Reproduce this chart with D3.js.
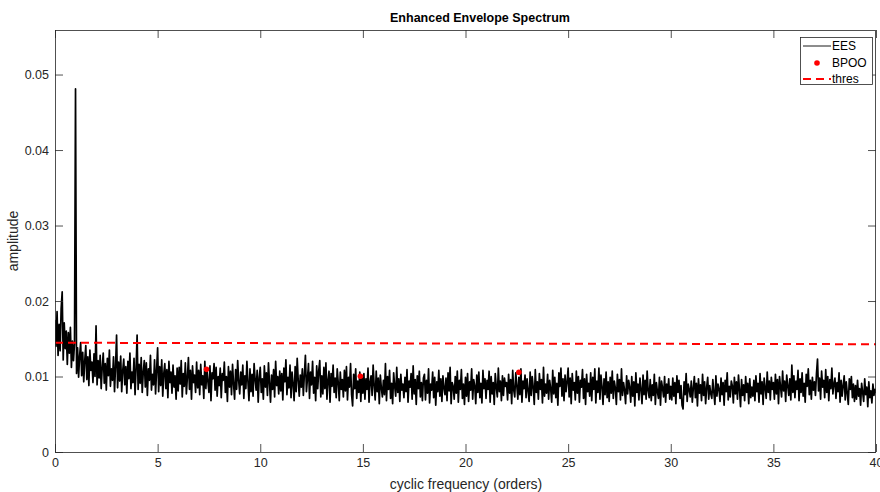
<!DOCTYPE html>
<html>
<head>
<meta charset="utf-8">
<script src="https://cdn.jsdelivr.net/npm/d3@7"></script>
<style>
  html, body { margin: 0; padding: 0; background: #ffffff; }
  svg { display: block; font-family: "Liberation Sans", Arial, Helvetica, sans-serif; }
</style>
</head>
<body>
<svg id="chart" width="880" height="492"></svg>
<script>
// ---------------- data ----------------
const chartTitle = "Enhanced Envelope Spectrum";
const xLabel = "cyclic frequency (orders)";
const yLabel = "amplitude";

// EES amplitude (x 1e-4), sampled every 0.05 orders from 0 to 40
const eesStep = 0.05;
const eesValues = [
175,140,186,128,169,134,190,212,122,171,137,160,116,158,131,165,112,147,121,143,
481,104,138,99,127,145,101,132,93,121,141,96,126,88,135,108,119,92,130,100,
167,89,121,98,128,84,112,131,91,117,82,124,101,135,87,110,95,126,80,114,
155,85,119,94,127,80,108,123,89,113,78,120,97,131,84,106,92,124,76,111,
155,83,116,91,125,79,106,121,86,118,75,110,95,128,82,103,89,122,77,109,
138,80,113,88,122,74,104,117,84,109,72,120,92,106,78,115,86,101,70,111,
81,112,90,121,73,104,87,118,77,99,125,83,108,70,114,92,102,79,119,85,
108,76,116,89,101,71,120,84,110,93,79,114,68,105,97,117,82,112,74,100,
88,111,72,104,95,119,79,100,67,113,86,107,76,116,90,70,109,83,121,94,
77,106,89,115,71,101,84,120,93,68,110,80,103,74,117,96,82,108,66,99,
112,79,97,70,114,86,105,75,118,92,66,102,83,109,73,120,88,100,77,107,
81,104,69,111,93,122,76,99,85,115,72,106,90,68,113,80,124,95,74,102,
86,110,75,103,128,80,97,117,71,106,89,120,78,99,68,114,84,108,121,73,
101,77,112,84,118,70,95,107,66,104,87,115,79,98,72,110,92,68,106,83,
96,73,108,81,113,69,99,86,117,76,61,103,84,110,71,94,79,106,67,100,
78,104,70,97,83,111,66,93,101,75,115,88,69,107,80,98,64,102,85,73,
95,76,117,68,100,83,108,71,91,64,105,87,74,112,79,97,67,103,82,90,
72,99,80,109,66,94,86,104,70,114,77,96,63,101,84,107,73,92,68,98,
103,69,95,78,110,65,90,82,106,72,99,62,93,80,108,74,97,67,101,85,
76,98,68,105,81,112,64,92,87,70,100,78,107,66,95,83,109,71,90,63,
99,74,104,67,93,82,110,70,96,88,64,102,79,106,72,91,65,108,84,97,
71,95,83,107,66,100,77,92,63,104,86,73,111,80,94,68,101,75,98,87,
92,69,103,78,96,64,108,82,73,105,88,70,99,76,110,66,94,84,102,72,
97,81,67,106,75,100,86,63,109,79,93,70,104,83,96,65,112,74,90,78,
103,70,95,84,66,108,77,99,72,91,62,105,87,111,74,97,68,102,80,93,
111,73,98,64,104,82,92,69,107,78,100,66,95,86,109,71,97,63,103,80,
91,74,105,68,99,83,110,65,94,79,111,70,102,87,63,97,76,106,72,93,
67,99,78,107,71,94,85,63,103,80,96,69,110,75,92,82,64,101,77,95,
86,66,100,74,93,61,105,79,90,69,98,83,64,102,76,95,70,107,81,72,
96,68,89,75,103,63,92,80,71,99,62,94,85,73,100,66,90,78,97,70,
87,69,98,74,92,64,101,79,95,71,88,62,57,93,76,104,67,90,83,73,
94,66,85,100,72,91,61,97,78,89,68,103,75,93,64,86,99,70,88,77,
71,96,79,63,101,74,90,84,67,98,76,92,62,95,80,105,69,87,73,94,
88,65,99,77,93,70,102,82,60,96,75,89,68,100,79,91,64,97,72,86,
74,95,68,101,80,91,66,104,77,93,63,98,85,71,106,79,94,69,99,83,
92,70,103,77,96,64,100,86,73,107,81,94,67,102,88,75,97,69,115,79,
101,72,94,83,108,68,97,79,105,74,91,66,103,87,110,76,95,70,99,82,
93,75,104,123,81,98,70,107,86,95,72,109,79,100,68,96,84,111,77,90,
98,71,92,80,105,66,95,74,88,101,69,93,78,63,97,83,100,72,90,67,
88,70,95,74,84,62,91,79,67,97,76,86,60,93,72,81,65,90,75,83,
78
];
const eesScale = 1e-4;

// BPOO markers
const bpooX = [7.38, 14.88, 22.6];
const bpooY = [0.01095, 0.01003, 0.01056];

// threshold line endpoints
const thresX = [0, 40];
const thresY = [0.01447, 0.01428];

// axes
const xDomain = [0, 40];
const yDomain = [0, 0.0559];
const xTicks = [0, 5, 10, 15, 20, 25, 30, 35, 40];
const yTicks = [0, 0.01, 0.02, 0.03, 0.04, 0.05];
const yTickLabels = ["0", "0.01", "0.02", "0.03", "0.04", "0.05"];

const legendLabels = ["EES", "BPOO", "thres"];

// ---------------- drawing ----------------
const svg = d3.select("#chart");
const W = 880, H = 492;
const m = { left: 55, right: 4, top: 30, bottom: 40 };
const pw = W - m.left - m.right, ph = H - m.top - m.bottom;
const axisColor = "#262626";
const fontFam = "'Liberation Sans', Arial, sans-serif";

const x = d3.scaleLinear().domain(xDomain).range([m.left, m.left + pw]);
const y = d3.scaleLinear().domain(yDomain).range([m.top + ph, m.top]);

svg.append("rect").attr("width", W).attr("height", H).attr("fill", "#fff");

const defs = svg.append("defs");
defs.append("clipPath").attr("id", "clip")
  .append("rect").attr("x", m.left).attr("y", m.top).attr("width", pw).attr("height", ph);

const plot = svg.append("g").attr("clip-path", "url(#clip)");

const ees = eesValues.map((v, i) => [i * eesStep, v * eesScale]);
plot.append("path")
  .datum(ees)
  .attr("fill", "none")
  .attr("stroke", "#000")
  .attr("stroke-width", 1.7)
  .attr("stroke-linejoin", "round")
  .attr("d", d3.line().x(d => x(d[0])).y(d => y(d[1])));

plot.append("path")
  .datum(thresX.map((v, i) => [v, thresY[i]]))
  .attr("fill", "none")
  .attr("stroke", "#ff0000")
  .attr("stroke-width", 2)
  .attr("stroke-dasharray", "8,5")
  .attr("d", d3.line().x(d => x(d[0])).y(d => y(d[1])));

plot.selectAll("circle.bpoo")
  .data(bpooX.map((v, i) => [v, bpooY[i]]))
  .join("circle")
  .attr("class", "bpoo")
  .attr("cx", d => x(d[0])).attr("cy", d => y(d[1]))
  .attr("r", 2.8).attr("fill", "#ff0000");

// axes (ticks inward, mirrored on top/right)
function styleAxis(g) {
  g.select(".domain").remove();
  g.selectAll(".tick line").attr("stroke", axisColor).attr("stroke-width", 0.8);
  g.selectAll(".tick text").attr("fill", axisColor).attr("font-size", 12.5)
    .attr("font-family", fontFam);
}
const tickLen = 8;
svg.append("g").attr("transform", `translate(0,${m.top + ph})`)
  .call(d3.axisBottom(x).tickValues(xTicks).tickSize(-tickLen).tickPadding(6).tickFormat(d3.format("d")))
  .call(styleAxis);
svg.append("g").attr("transform", `translate(0,${m.top})`)
  .call(d3.axisTop(x).tickValues(xTicks).tickSize(-tickLen).tickFormat(""))
  .call(styleAxis);
svg.append("g").attr("transform", `translate(${m.left},0)`)
  .call(d3.axisLeft(y).tickValues(yTicks).tickSize(-tickLen).tickPadding(6).tickFormat((d, i) => yTickLabels[i]))
  .call(styleAxis);
svg.append("g").attr("transform", `translate(${m.left + pw},0)`)
  .call(d3.axisRight(y).tickValues(yTicks).tickSize(-tickLen).tickFormat(""))
  .call(styleAxis);

svg.append("rect")
  .attr("x", m.left + 0.5).attr("y", m.top + 0.5)
  .attr("width", pw - 1).attr("height", ph)
  .attr("fill", "none").attr("stroke", axisColor).attr("stroke-width", 0.8);

// labels
svg.append("text").attr("x", 480).attr("y", 22)
  .attr("text-anchor", "middle").attr("font-weight", "bold").attr("font-size", 12.5)
  .attr("fill", "#000").text(chartTitle);
svg.append("text").attr("x", 466).attr("y", 489)
  .attr("text-anchor", "middle").attr("font-size", 14).attr("fill", axisColor).text(xLabel);
svg.append("text").attr("transform", `translate(18,${m.top + ph / 2}) rotate(-90)`)
  .attr("text-anchor", "middle").attr("font-size", 14).attr("fill", axisColor).text(yLabel);

// legend
const lg = svg.append("g");
lg.append("rect").attr("x", 800.5).attr("y", 37.5).attr("width", 72).attr("height", 47)
  .attr("fill", "#fff").attr("stroke", axisColor).attr("stroke-width", 0.8);
const rowsY = [46, 63, 79];
lg.append("line").attr("x1", 803).attr("x2", 831).attr("y1", rowsY[0]).attr("y2", rowsY[0])
  .attr("stroke", "#000").attr("stroke-width", 0.9);
lg.append("circle").attr("cx", 817).attr("cy", rowsY[1]).attr("r", 2.8).attr("fill", "#ff0000");
lg.append("line").attr("x1", 803).attr("x2", 831).attr("y1", rowsY[2]).attr("y2", rowsY[2])
  .attr("stroke", "#ff0000").attr("stroke-width", 2).attr("stroke-dasharray", "8,5");
lg.selectAll("text.leg").data(legendLabels).join("text").attr("class", "leg")
  .attr("x", 832).attr("y", (d, i) => rowsY[i]).attr("dy", "0.35em")
  .attr("font-size", 12).attr("font-family", fontFam).attr("fill", "#000").text(d => d);
</script>
</body>
</html>
